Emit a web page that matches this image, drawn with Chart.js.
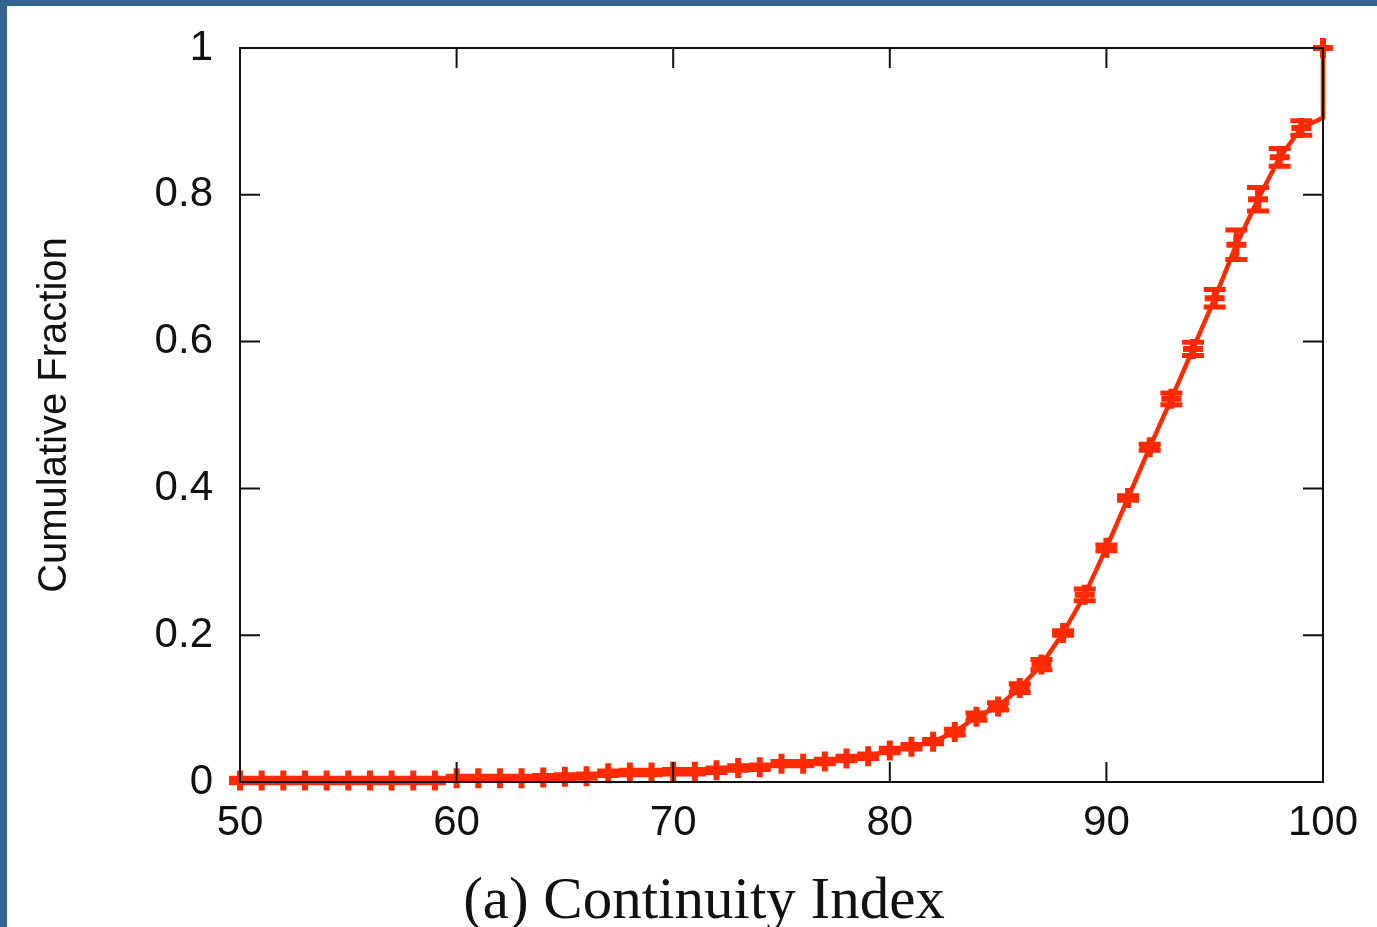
<!DOCTYPE html>
<html>
<head>
<meta charset="utf-8">
<script src="https://cdn.jsdelivr.net/npm/chart.js@4.4.1/dist/chart.umd.min.js"></script>
<style>
  html, body { margin: 0; padding: 0; background: #366491; overflow: hidden; }
  #wrap { position: absolute; left: 7px; top: 6px; width: 1370px; height: 921px; background: #ffffff; }
  canvas { display: block; }
</style>
</head>
<body>
<div id="wrap"><canvas id="cdf" width="1370" height="921"></canvas></div>
<script>
// CDF of the continuity index, one sample per integer percent
const ciValues = [
  50, 51, 52, 53, 54, 55, 56, 57, 58, 59,
  60, 61, 62, 63, 64, 65, 66, 67, 68, 69,
  70, 71, 72, 73, 74, 75, 76, 77, 78, 79,
  80, 81, 82, 83, 84, 85, 86, 87, 88, 89,
  90, 91, 92, 93, 94, 95, 96, 97, 98, 99,
  100, 100
];
const cumFraction = [
  0.002, 0.002, 0.002, 0.002, 0.002, 0.002, 0.002, 0.002, 0.002, 0.002,
  0.005, 0.005, 0.005, 0.005, 0.006, 0.007, 0.008, 0.012, 0.013, 0.013,
  0.014, 0.014, 0.016, 0.019, 0.020, 0.025, 0.025, 0.028, 0.032, 0.035,
  0.043, 0.048, 0.055, 0.068, 0.089, 0.103, 0.128, 0.160, 0.203, 0.255,
  0.319, 0.387, 0.456, 0.522, 0.590, 0.659, 0.732, 0.794, 0.851, 0.891,
  0.905, 1.0
];
// half-height of the error bar at each sample
const cumError = [
  0.003, 0.003, 0.003, 0.003, 0.003, 0.003, 0.003, 0.003, 0.003, 0.003,
  0.003, 0.003, 0.003, 0.003, 0.003, 0.003, 0.003, 0.003, 0.003, 0.003,
  0.003, 0.003, 0.003, 0.003, 0.003, 0.003, 0.003, 0.003, 0.003, 0.003,
  0.003, 0.003, 0.003, 0.004, 0.005, 0.005, 0.006, 0.007, 0.003, 0.008,
  0.004, 0.003, 0.004, 0.008, 0.009, 0.012, 0.020, 0.016, 0.012, 0.010,
  0, 0
];
// the step up to 1 at 100 has no marker on its lower end
const showMarker = ciValues.map((v, i) => i !== ciValues.length - 2);

const xTicks = [50, 60, 70, 80, 90, 100];
const yTicks = [0, 0.2, 0.4, 0.6, 0.8, 1];
const caption = '(a) Continuity Index';

const RED = '#ff2a00';
const INK = '#111111';

// gnuplot style error bars: vertical bar with horizontal caps
const errorBars = {
  id: 'errorBars',
  afterDatasetsDraw(chart) {
    const ctx = chart.ctx;
    const y = chart.scales.y;
    const meta = chart.getDatasetMeta(0);
    ctx.save();
    ctx.strokeStyle = RED;
    ctx.lineWidth = 5;
    meta.data.forEach((pt, i) => {
      const e = cumError[i];
      if (!e || !showMarker[i]) return;
      const top = y.getPixelForValue(cumFraction[i] + e);
      const bot = y.getPixelForValue(cumFraction[i] - e);
      ctx.beginPath();
      ctx.moveTo(pt.x, top); ctx.lineTo(pt.x, bot);
      ctx.moveTo(pt.x - 11, top); ctx.lineTo(pt.x + 11, top);
      ctx.moveTo(pt.x - 11, bot); ctx.lineTo(pt.x + 11, bot);
      ctx.stroke();
    });
    ctx.restore();
  }
};

// closed border with inward ticks on all four sides, drawn over the curve
const frame = {
  id: 'frame',
  afterDatasetsDraw(chart) {
    const { ctx, chartArea: a, scales } = chart;
    const tick = 20;
    ctx.save();
    ctx.strokeStyle = INK;
    ctx.lineWidth = 2;
    ctx.beginPath();
    xTicks.forEach(v => {
      const px = scales.x.getPixelForValue(v);
      ctx.moveTo(px, a.bottom); ctx.lineTo(px, a.bottom - tick);
      ctx.moveTo(px, a.top); ctx.lineTo(px, a.top + tick);
    });
    yTicks.forEach(v => {
      const py = scales.y.getPixelForValue(v);
      ctx.moveTo(a.left, py); ctx.lineTo(a.left + tick, py);
      ctx.moveTo(a.right, py); ctx.lineTo(a.right - tick, py);
    });
    ctx.stroke();
    ctx.strokeRect(a.left, a.top, a.right - a.left, a.bottom - a.top);
    ctx.restore();
  }
};

const captionText = {
  id: 'captionText',
  afterDraw(chart) {
    const ctx = chart.ctx;
    ctx.save();
    ctx.fillStyle = INK;
    ctx.font = "59px 'Liberation Serif', 'DejaVu Serif', serif";
    ctx.textAlign = 'center';
    ctx.textBaseline = 'alphabetic';
    ctx.fillText(caption, chart.width / 2 + 12, 912);
    ctx.restore();
  }
};

const tickFont = { family: "'Liberation Sans', Arial, sans-serif", size: 42 };
const titleFont = { family: "'Liberation Sans', Arial, sans-serif", size: 40 };

new Chart(document.getElementById('cdf').getContext('2d'), {
  type: 'line',
  data: {
    datasets: [{
      data: ciValues.map((x, i) => ({ x, y: cumFraction[i] })),
      borderColor: RED,
      backgroundColor: RED,
      borderWidth: 4.5,
      tension: 0,
      fill: false,
      clip: false,
      pointStyle: 'cross',
      pointRadius: showMarker.map(s => s ? 10 : 0),
      pointBorderWidth: 6,
      pointBorderColor: RED
    }]
  },
  options: {
    responsive: false,
    animation: false,
    devicePixelRatio: 1,
    layout: { padding: { top: 42, right: 54, bottom: 0, left: 0 } },
    plugins: { legend: { display: false }, tooltip: { enabled: false } },
    scales: {
      x: {
        type: 'linear',
        min: 50, max: 100,
        afterBuildTicks: s => { s.ticks = xTicks.map(value => ({ value })); },
        afterFit: s => { s.height = 145; s.paddingLeft = 0; s.paddingRight = 0; },
        grid: { display: false, drawTicks: false },
        border: { display: false },
        ticks: { color: INK, font: tickFont, padding: 16, maxRotation: 0 }
      },
      y: {
        min: 0, max: 1,
        afterBuildTicks: s => { s.ticks = yTicks.map(value => ({ value })); },
        afterFit: s => { s.width = 233; s.paddingTop = 0; s.paddingBottom = 0; },
        grid: { display: false, drawTicks: false },
        border: { display: false },
        ticks: { color: INK, font: tickFont, padding: 27, callback: v => String(v) },
        title: {
          display: true,
          text: 'Cumulative Fraction',
          color: INK,
          font: titleFont,
          padding: { top: 24, bottom: 0 }
        }
      }
    }
  },
  plugins: [errorBars, frame, captionText]
});
</script>
</body>
</html>
